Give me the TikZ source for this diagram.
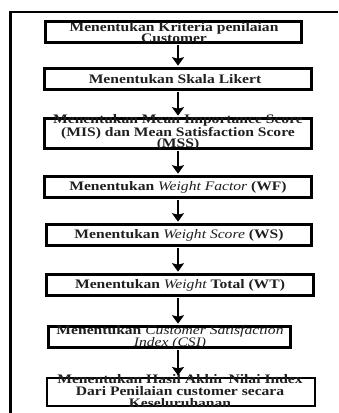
\documentclass[tikz,border=0pt]{standalone}
\usepackage{fontspec}
\setmainfont[FakeStretch=1.2]{Liberation Serif}
\usetikzlibrary{arrows.meta}
\newcommand{\itx}[1]{{\mdseries\itshape #1}}
\begin{document}
\begin{tikzpicture}[x=1pt,y=-1pt,
  stepbox/.style={draw=black, line width=2.7pt, rectangle, inner sep=0pt},
  steptext/.style={align=center, inner sep=0pt, text=black!88,
    font=\fontsize{13}{11.8}\selectfont\bfseries},
  arr/.style={line width=2.3pt, -{Stealth[length=8.5pt,width=12pt,inset=1.5pt]}, shorten >=1.2pt, shorten <=1.2pt},
  frame/.style={line width=2.5pt}]
\useasboundingbox (0,0) rectangle (338,413);
\fill[white] (0,0) rectangle (338,413);
% outer frame (left and top sides)
\coordinate (fa) at (10.8,413);
\coordinate (fc) at (338,12.2);
\draw[frame, line width=3.2pt] (fa) -- (10.8,11);
\draw[frame, line width=2.3pt] (9.2,12.2) -- (fc);
% boxes
\node[stepbox, minimum width=256pt, minimum height=21.5pt] (b1) at (173.5,32) {};
\node[stepbox, minimum width=267pt, minimum height=21.5pt] (b2) at (178,79) {};
\node[stepbox, minimum width=267pt, minimum height=30.5pt] (b3) at (178,133.5) {};
\node[stepbox, minimum width=267pt, minimum height=21.5pt] (b4) at (178,187) {};
\node[stepbox, minimum width=265pt, minimum height=21.5pt] (b5) at (179,235) {};
\node[stepbox, minimum width=267pt, minimum height=21.5pt] (b6) at (180,285) {};
\node[stepbox, minimum width=242pt, minimum height=21.5pt] (b7) at (169.5,337) {};
\node[stepbox, minimum width=268pt, minimum height=28pt] (b8) at (181,392) {};
% texts
\node[steptext] (t1) at (174,32.5) {Menentukan Kriteria penilaian\\Customer};
\node[steptext] (t2) at (175,79) {Menentukan Skala Likert};
\node[steptext] (t3) at (178,132.5) {Menentukan Mean Importance Score\\(MIS) dan Mean Satisfaction Score\\(MSS)};
\node[steptext] (t4) at (178,187) {Menentukan \itx{Weight Factor} (WF)};
\node[steptext] (t5) at (179,235) {Menentukan \itx{Weight Score} (WS)};
\node[steptext] (t6) at (180,285) {Menentukan \itx{Weight} Total (WT)};
\node[steptext] (t7) at (170,337) {Menentukan \itx{Customer Satisfaction}\\\itx{Index (CSI)}};
\node[steptext, font=\fontsize{13}{12.4}\selectfont\bfseries] (t8) at (180,391) {Menentukan Hasil Akhir Nilai Index\\Dari Penilaian customer secara\\Keseluruhanan};
% arrows
\coordinate (ax) at (178,0);
\draw[arr] (b1.south -| ax) -- (b2.north -| ax);
\draw[arr] (b2.south -| ax) -- (b3.north -| ax);
\draw[arr] (b3.south -| ax) -- (b4.north -| ax);
\draw[arr] (b4.south -| ax) -- (b5.north -| ax);
\draw[arr] (b5.south -| ax) -- (b6.north -| ax);
\draw[arr] (b6.south -| ax) -- (b7.north -| ax);
\draw[arr] (b7.south -| ax) -- (b8.north -| ax);
\end{tikzpicture}
\end{document}
